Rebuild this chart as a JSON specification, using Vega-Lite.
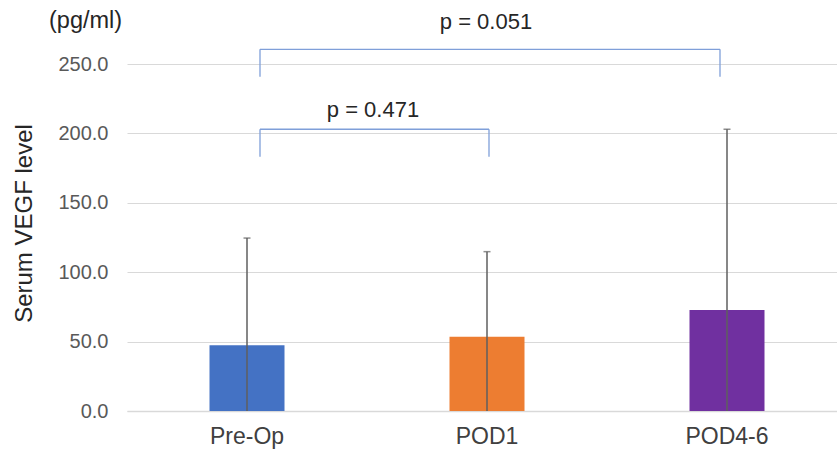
{
  "$schema": "https://vega.github.io/schema/vega-lite/v6.json",
  "autosize": {"type": "none"},
  "padding": {"left": 127, "top": 64, "right": 0, "bottom": 44},
  "width": 710,
  "height": 347,
  "background": "white",
  "config": {
    "font": "Liberation Sans",
    "view": {"stroke": null},
    "axisY": {
      "labelFontSize": 20, "labelColor": "#595959", "labelPadding": 19,
      "ticks": false, "domain": false, "gridColor": "#d9d9d9", "gridWidth": 1,
      "titleFontSize": 24, "titleFontWeight": "normal", "titleColor": "#262626",
      "titleX": -103, "titleY": 159, "titleAngle": -90, "titleBaseline": "middle", "titleAlign": "center"
    },
    "axisX": {
      "labelFontSize": 23, "labelColor": "#404040", "labelPadding": 14, "labelAngle": 0,
      "ticks": false, "domain": true, "domainColor": "#d9d9d9", "domainWidth": 1.5, "grid": false
    }
  },
  "title": {
    "text": "(pg/ml)", "anchor": "start", "frame": "group", "orient": "top",
    "dx": -78, "offset": -45, "baseline": "bottom",
    "fontSize": 23.5, "fontWeight": "normal", "color": "#262626"
  },
  "datasets": {
    "bars": [
      {"group": "Pre-Op", "mean": 47.3, "upper": 124.6},
      {"group": "POD1", "mean": 53.5, "upper": 114.8},
      {"group": "POD4-6", "mean": 72.8, "upper": 203.0}
    ],
    "brackets": [
      {"id": "a", "from": "Pre-Op", "to": "POD1", "lo": 183.2, "hi": 203.0, "label": "p = 0.471", "ly": 217.2},
      {"id": "b", "from": "Pre-Op", "to": "POD4-6", "lo": 240.9, "hi": 260.6, "label": "p = 0.051", "ly": 279.9}
    ]
  },
  "layer": [
    {
      "data": {"name": "bars"},
      "mark": {"type": "bar", "width": 75},
      "encoding": {
        "x": {"field": "group", "type": "nominal", "title": null,
              "scale": {"domain": ["Pre-Op", "POD1", "POD4-6"], "range": [0, 720], "paddingInner": 0, "paddingOuter": 0}},
        "y": {"field": "mean", "type": "quantitative", "title": "Serum VEGF level",
              "scale": {"domain": [0, 250], "nice": false, "zero": true},
              "axis": {"values": [0, 50, 100, 150, 200, 250], "format": ".1f"}},
        "color": {"field": "group", "type": "nominal", "legend": null,
                  "scale": {"domain": ["Pre-Op", "POD1", "POD4-6"], "range": ["#4472C4", "#ED7D31", "#7030A0"]}}
      }
    },
    {
      "data": {"name": "bars"},
      "mark": {"type": "rule", "color": "#5f5f5f", "strokeWidth": 1.5},
      "encoding": {
        "x": {"field": "group", "type": "nominal", "title": null},
        "y": {"field": "upper", "type": "quantitative", "title": "Serum VEGF level"},
        "y2": {"datum": 0}
      }
    },
    {
      "data": {"name": "bars"},
      "mark": {"type": "tick", "color": "#5f5f5f", "size": 7, "thickness": 1.5},
      "encoding": {
        "x": {"field": "group", "type": "nominal", "title": null},
        "y": {"field": "upper", "type": "quantitative", "title": "Serum VEGF level"}
      }
    },
    {
      "data": {"name": "brackets"},
      "transform": [{"filter": "datum.id === 'a'"}],
      "layer": [
        {"mark": {"type": "rule", "color": "#7f9fd9", "strokeWidth": 1.3, "xOffset": 13, "x2Offset": 2},
         "encoding": {"x": {"field": "from", "type": "nominal", "title": null}, "x2": {"field": "to"},
                      "y": {"field": "hi", "type": "quantitative", "title": "Serum VEGF level"}}},
        {"mark": {"type": "rule", "color": "#7f9fd9", "strokeWidth": 1.3, "xOffset": 13},
         "encoding": {"x": {"field": "from", "type": "nominal", "title": null},
                      "y": {"field": "lo", "type": "quantitative", "title": "Serum VEGF level"}, "y2": {"field": "hi"}}},
        {"mark": {"type": "rule", "color": "#7f9fd9", "strokeWidth": 1.3, "xOffset": 2},
         "encoding": {"x": {"field": "to", "type": "nominal", "title": null},
                      "y": {"field": "lo", "type": "quantitative", "title": "Serum VEGF level"}, "y2": {"field": "hi"}}},
        {"mark": {"type": "text", "fontSize": 22, "color": "#262626", "baseline": "middle", "align": "center", "dx": 126},
         "encoding": {"x": {"field": "from", "type": "nominal", "title": null},
                      "y": {"field": "ly", "type": "quantitative", "title": "Serum VEGF level"},
                      "text": {"field": "label"}}}
      ]
    },
    {
      "data": {"name": "brackets"},
      "transform": [{"filter": "datum.id === 'b'"}],
      "layer": [
        {"mark": {"type": "rule", "color": "#7f9fd9", "strokeWidth": 1.3, "xOffset": 13, "x2Offset": -7},
         "encoding": {"x": {"field": "from", "type": "nominal", "title": null}, "x2": {"field": "to"},
                      "y": {"field": "hi", "type": "quantitative", "title": "Serum VEGF level"}}},
        {"mark": {"type": "rule", "color": "#7f9fd9", "strokeWidth": 1.3, "xOffset": 13},
         "encoding": {"x": {"field": "from", "type": "nominal", "title": null},
                      "y": {"field": "lo", "type": "quantitative", "title": "Serum VEGF level"}, "y2": {"field": "hi"}}},
        {"mark": {"type": "rule", "color": "#7f9fd9", "strokeWidth": 1.3, "xOffset": -7},
         "encoding": {"x": {"field": "to", "type": "nominal", "title": null},
                      "y": {"field": "lo", "type": "quantitative", "title": "Serum VEGF level"}, "y2": {"field": "hi"}}},
        {"mark": {"type": "text", "fontSize": 22, "color": "#262626", "baseline": "middle", "align": "center", "dx": 239},
         "encoding": {"x": {"field": "from", "type": "nominal", "title": null},
                      "y": {"field": "ly", "type": "quantitative", "title": "Serum VEGF level"},
                      "text": {"field": "label"}}}
      ]
    }
  ]
}
